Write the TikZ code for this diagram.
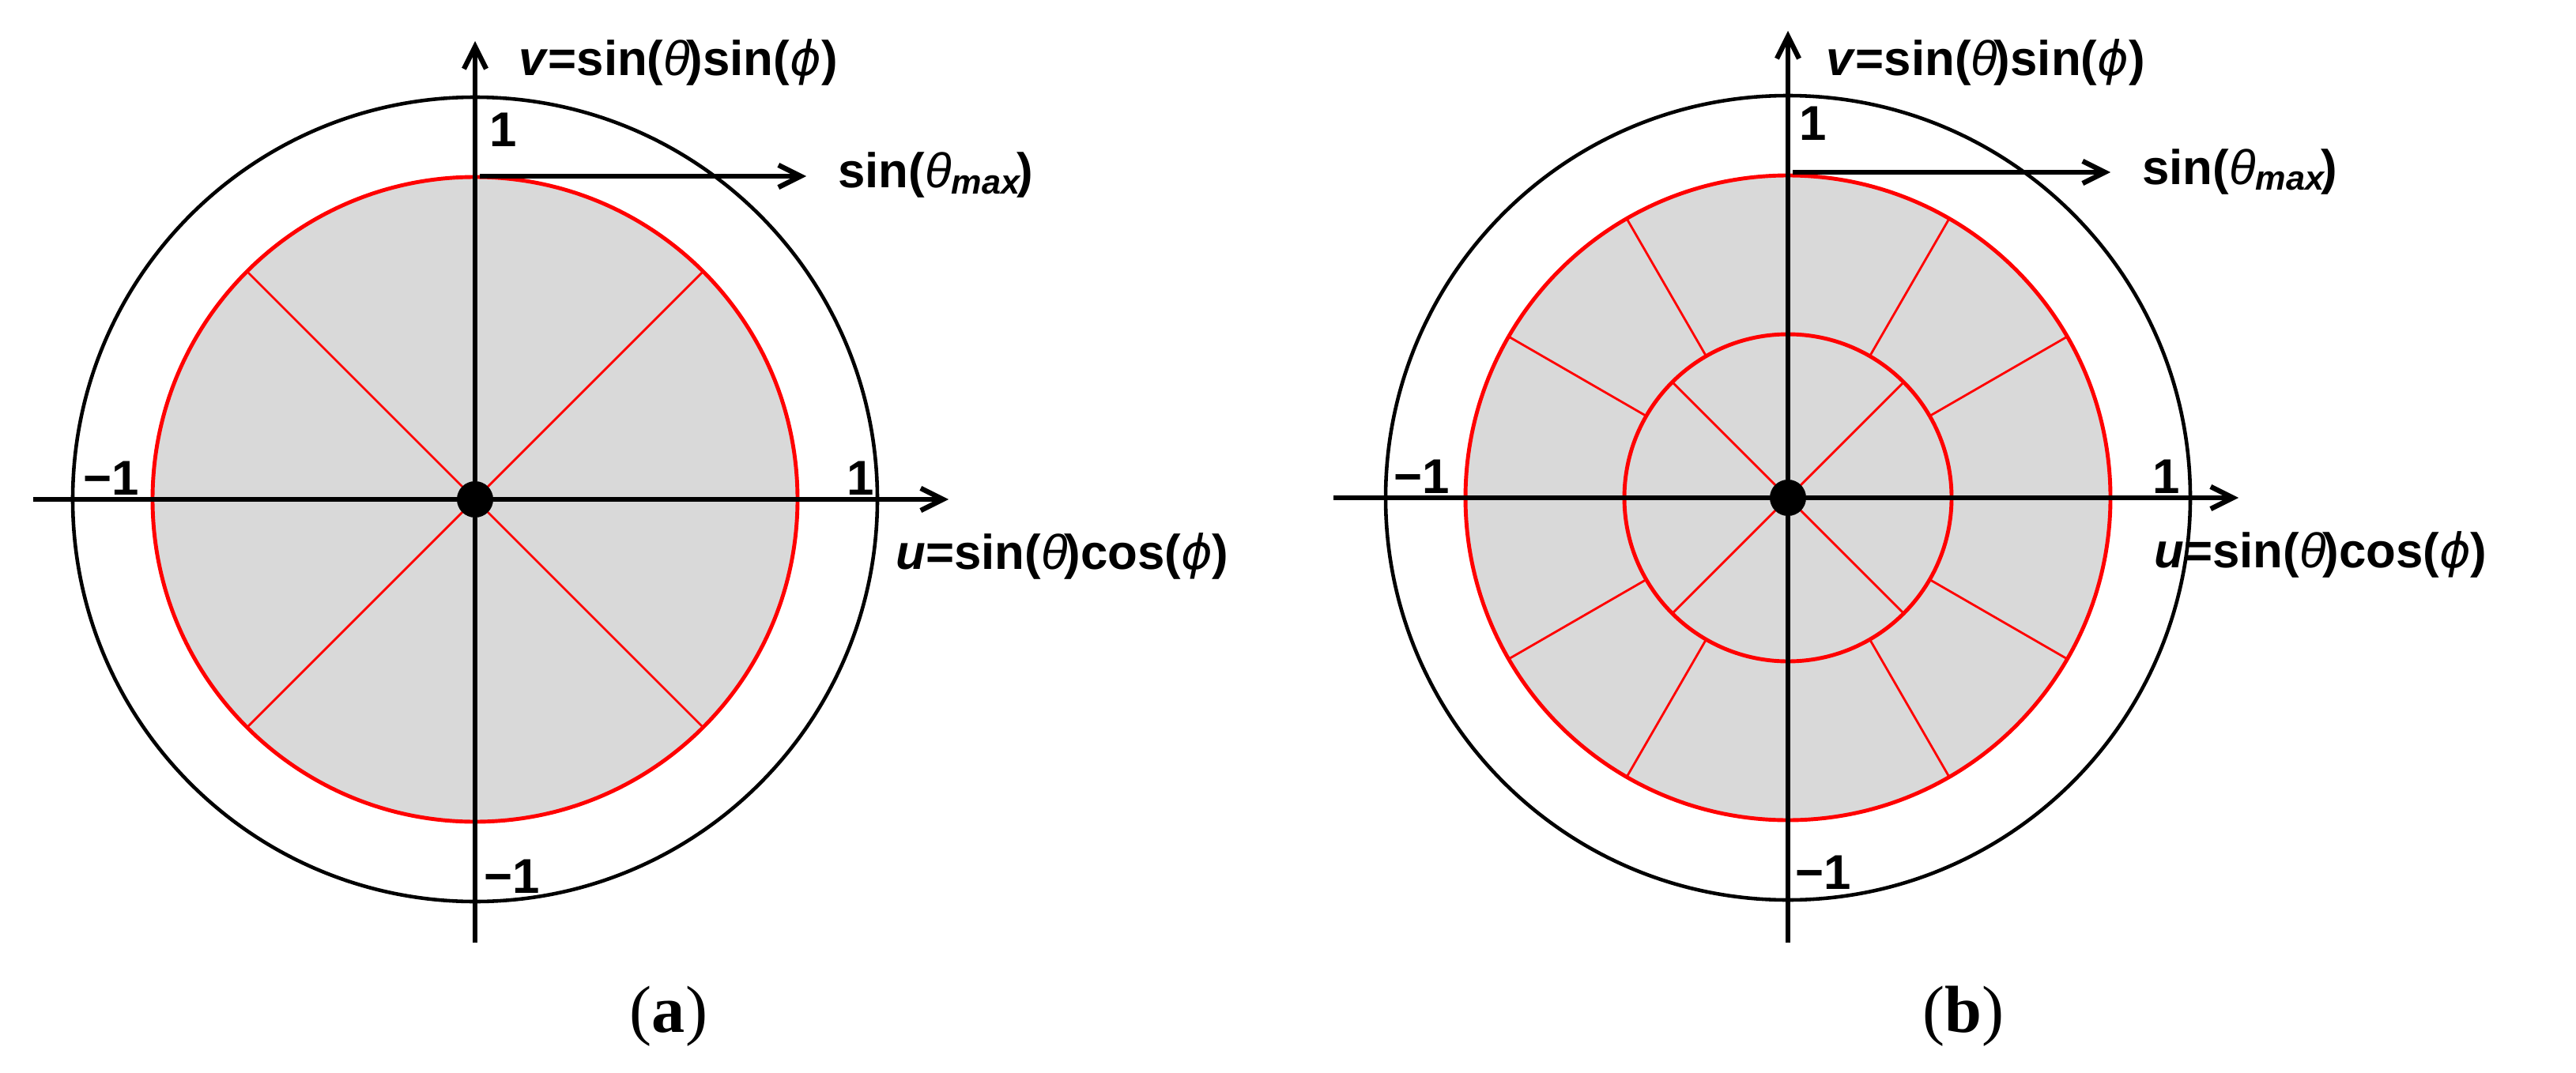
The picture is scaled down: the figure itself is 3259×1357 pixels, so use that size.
\documentclass[tikz,border=0pt]{standalone}
\usepackage{fontspec}
\setmainfont{Liberation Serif}
\newfontfamily\axisfont{Liberation Sans}
\newfontfamily\phifont{DejaVu Sans}
\usetikzlibrary{positioning,arrows.meta}
\definecolor{capgray}{RGB}{217,217,217}
\tikzset{axis/.style={draw, line width=0.9pt, -{Straight Barb[length=4pt,width=4pt]}}}
\tikzset{unitcirc/.style={draw, line width=0.65pt}}
\tikzset{capfill/.style={fill=capgray}}
\tikzset{capedge/.style={draw=red, line width=0.7pt}}
\tikzset{spoke/.style={draw=red, line width=0.4pt}}
\tikzset{lbl/.style={font=\axisfont\bfseries\fontsize{8.8}{10}\selectfont, inner sep=0pt}}
\tikzset{panellbl/.style={font=\fontsize{12}{14}\selectfont, inner sep=0pt}}
\newcommand\tht{{\mdseries\itshape θ}}
\newcommand\phh{{\phifont\mdseries\itshape\fontsize{8.6}{10}\selectfont ϕ}}
\newcommand\ulabel{\textit{u}=sin(\tht\kern-0.6pt)cos(\phh)}
\newcommand\vlabel{\textit{v}=sin(\tht\kern-0.6pt)sin(\phh)}
\newcommand\smax{sin(\tht\textsubscript{\textit{max}}\kern-1.2pt)}

\begin{document}
\begin{tikzpicture}[x=0.005cm, y=0.005cm]
\useasboundingbox (0,0) rectangle (3259,1357);
% (a) single cap, four sectors
\begin{scope}[shift={(601,725)}]
  \coordinate (oa) at (0,0);
  \fill[capfill] (oa) circle[radius=408];
  \foreach \ang in {45,135,225,315}
    \draw[spoke] (oa) -- (\ang:408);
  \draw[capedge] (oa) circle[radius=408];
  \draw[unitcirc] (oa) circle[radius=509];
  \coordinate (a-ul) at (-559,0);
  \coordinate (a-ur) at (599,0);
  \coordinate (a-vb) at (0,-561);
  \coordinate (a-vt) at (0,580);
  \coordinate (a-s0) at (6,409);
  \coordinate (a-s1) at (419,409);
  \draw[axis] (a-ul) -- (a-ur);
  \draw[axis] (a-vb) -- (a-vt);
  \draw[axis] (a-s0) -- (a-s1);
  \fill (oa) circle[radius=23];
  \node[lbl, anchor=base west] (a-v) at (54,537) {\vlabel};
  \node[lbl, anchor=base west] (a-u) at (531,-88) {\ulabel};
  \node[lbl, anchor=base west] (a-smax) at (458,394) {\smax};
  \node[lbl, anchor=base west] (a-one) at (17,446) {1};
  \node[lbl, anchor=base west] (a-mone) at (10,-498) {−1};
  \node[lbl, anchor=base west] (a-left) at (-497,6) {−1};
  \node[lbl, anchor=base east] (a-right) at (506,6) {1};
\end{scope}
% (b) inner disk plus outer ring
\begin{scope}[shift={(2262,727)}]
  \coordinate (ob) at (0,0);
  \fill[capfill] (ob) circle[radius=408];
  \foreach \ang in {45,135,225,315}
    \draw[spoke] (ob) -- (\ang:207);
  \foreach \ang in {30,60,120,150,210,240,300,330}
    \draw[spoke] (\ang:207) -- (\ang:408);
  \draw[capedge] (ob) circle[radius=207];
  \draw[capedge] (ob) circle[radius=408];
  \draw[unitcirc] (ob) circle[radius=509];
  \coordinate (b-ul) at (-575,0);
  \coordinate (b-ur) at (570,0);
  \coordinate (b-vb) at (0,-563);
  \coordinate (b-vt) at (0,591);
  \coordinate (b-s0) at (6,412);
  \coordinate (b-s1) at (408,412);
  \draw[axis] (b-ul) -- (b-ur);
  \draw[axis] (b-vb) -- (b-vt);
  \draw[axis] (b-s0) -- (b-s1);
  \fill (ob) circle[radius=23];
  \node[lbl, anchor=base west] (b-v) at (47,535) {\vlabel};
  \node[lbl, anchor=base west] (b-u) at (462,-88) {\ulabel};
  \node[lbl, anchor=base west] (b-smax) at (447,397) {\smax};
  \node[lbl, anchor=base west] (b-one) at (13,452) {1};
  \node[lbl, anchor=base west] (b-mone) at (8,-495) {−1};
  \node[lbl, anchor=base west] (b-left) at (-500,6) {−1};
  \node[lbl, anchor=base east] (b-right) at (497,6) {1};
\end{scope}
\node[panellbl] (cap-a) at (846,71) {(\textbf{a})};
\node[panellbl] (cap-b) at (2484,71) {(\textbf{b})};
\end{tikzpicture}
\end{document}
